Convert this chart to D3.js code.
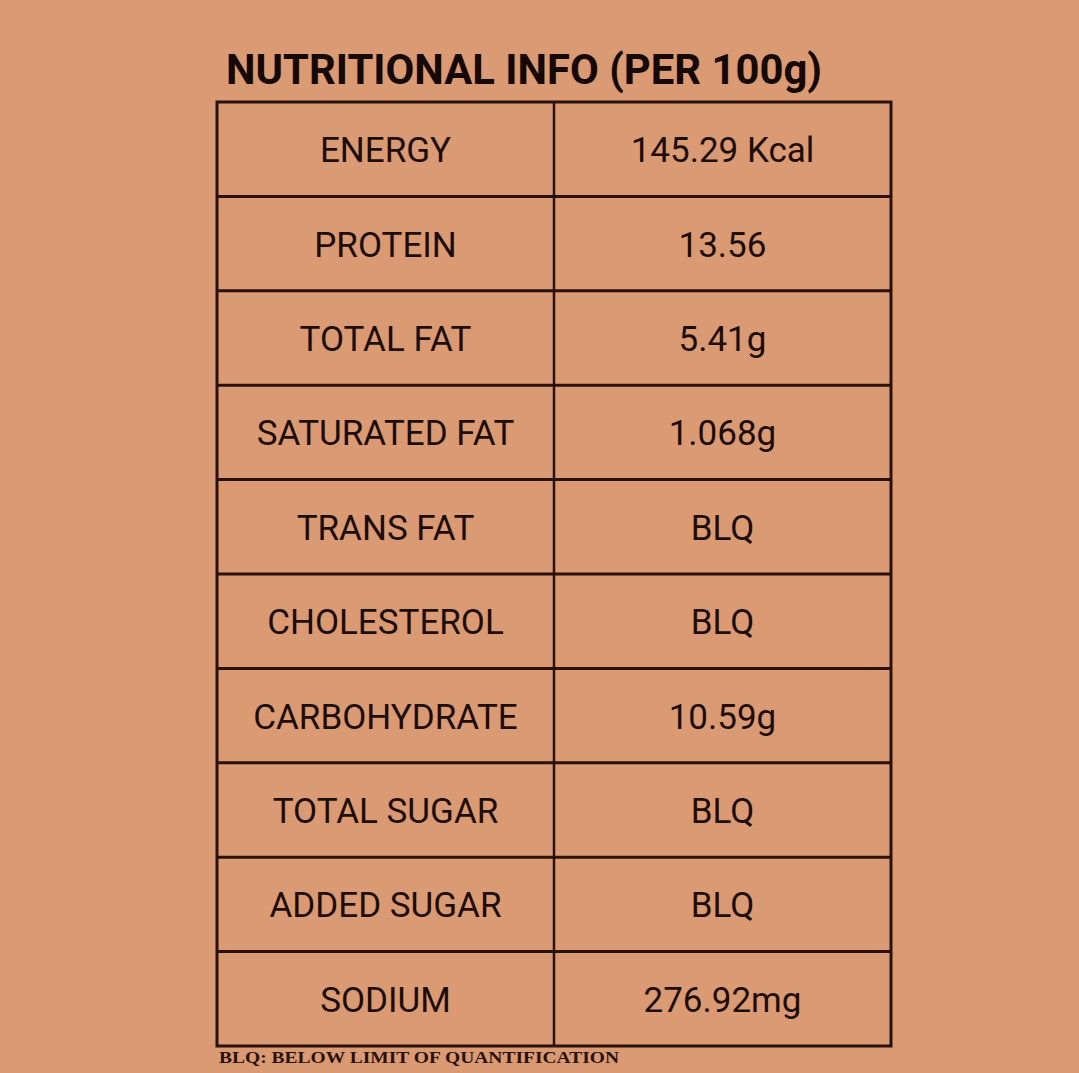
<!DOCTYPE html>
<html>
<head>
<meta charset="utf-8">
<script src="https://cdn.jsdelivr.net/npm/d3@7"></script>
<style>
  html, body { margin: 0; padding: 0; background: #da9a74; }
  svg { display: block; }
</style>
</head>
<body>
<svg width="1079" height="1073"></svg>
<script>
var nutrients = ["ENERGY", "PROTEIN", "TOTAL FAT", "SATURATED FAT", "TRANS FAT",
    "CHOLESTEROL", "CARBOHYDRATE", "TOTAL SUGAR", "ADDED SUGAR", "SODIUM"];
var amounts = ["145.29 Kcal", "13.56", "5.41g", "1.068g", "BLQ",
    "BLQ", "10.59g", "BLQ", "BLQ", "276.92mg"];
var columns = ["nutrient", "amount"];
var titleText = "NUTRITIONAL INFO (PER 100g)";
var footText = "BLQ: BELOW LIMIT OF QUANTIFICATION";

var svg = d3.select("svg"),
    table = {top: 102, bottom: 1046, left: 217, right: 891},
    ink = "#2a110a";

var yScale = d3.scaleBand().domain(nutrients).range([table.top, table.bottom]),
    xScale = d3.scaleBand().domain(columns).range([table.left, table.right]);

var rows = nutrients.map(function(n, i) {
    return {nutrient: n, amount: amounts[i]};
});

// title
svg.append("text")
    .attr("x", 226)
    .attr("y", 84)
    .attr("font-family", "Roboto")
    .attr("font-weight", "bold")
    .attr("font-size", 42)
    .attr("fill", "#150805")
    .attr("textLength", 596)
    .attr("lengthAdjust", "spacingAndGlyphs")
    .text(titleText);

var g = svg.append("g");

// cell text
columns.forEach(function(col) {
    g.selectAll(".cell-" + col)
        .data(rows)
        .enter().append("text")
        .attr("class", "cell-" + col)
        .attr("x", xScale(col) + xScale.bandwidth() / 2)
        .attr("y", function(d) { return yScale(d.nutrient) + yScale.bandwidth() / 2 + 13; })
        .attr("text-anchor", "middle")
        .attr("font-family", "Roboto")
        .attr("font-size", 35)
        .attr("fill", "#1e0c07")
        .text(function(d) { return d[col]; });
});

// horizontal grid lines
var hLines = nutrients.slice(1).map(function(n) { return yScale(n); });
g.selectAll(".hline")
    .data(hLines)
    .enter().append("line")
    .attr("class", "hline")
    .attr("x1", table.left)
    .attr("x2", table.right)
    .attr("y1", function(d) { return d; })
    .attr("y2", function(d) { return d; })
    .attr("stroke", ink)
    .attr("stroke-width", 3);

// column divider
g.append("line")
    .attr("x1", xScale("amount"))
    .attr("x2", xScale("amount"))
    .attr("y1", table.top)
    .attr("y2", table.bottom)
    .attr("stroke", ink)
    .attr("stroke-width", 2.5);

// outer border
g.append("rect")
    .attr("x", table.left)
    .attr("y", table.top)
    .attr("width", table.right - table.left)
    .attr("height", table.bottom - table.top)
    .attr("fill", "none")
    .attr("stroke", ink)
    .attr("stroke-width", 3);

// footnote
svg.append("text")
    .attr("x", 219)
    .attr("y", 1063)
    .attr("font-family", "Liberation Serif")
    .attr("font-weight", "bold")
    .attr("font-size", 17)
    .attr("fill", "#2a110a")
    .attr("textLength", 400)
    .attr("lengthAdjust", "spacingAndGlyphs")
    .text(footText);
</script>
</body>
</html>
